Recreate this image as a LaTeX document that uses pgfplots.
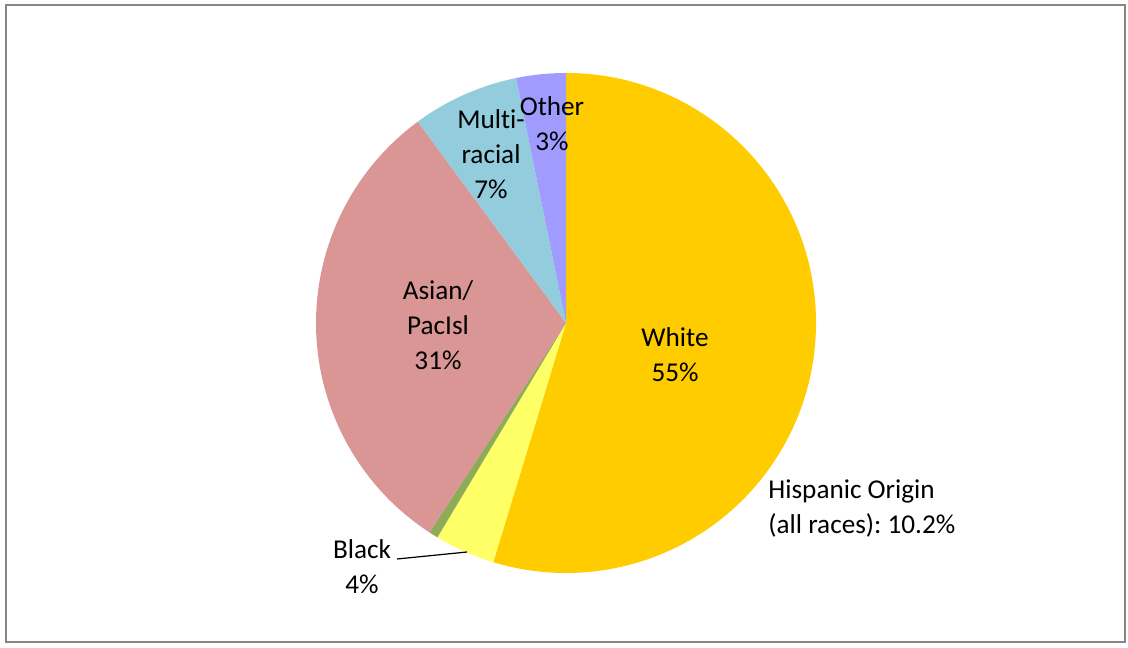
\documentclass[border=0pt]{standalone}
\usepackage{fontspec}
\setmainfont{Carlito}[Ligatures=NoCommon]
\usepackage{pgfplots}
\usepackage{pgfplotstable}
\pgfplotsset{compat=1.18}
\frenchspacing

\definecolor{c0}{HTML}{FFCC00}
\definecolor{c1}{HTML}{FFFF66}
\definecolor{c2}{HTML}{8EAB5A}
\definecolor{c3}{HTML}{D99694}
\definecolor{c4}{HTML}{93CDDD}
\definecolor{c5}{HTML}{A09CFF}
\definecolor{frame}{HTML}{868686}

% shares in percent, clockwise from 12 o'clock
\pgfplotstableread{
name   value
White  54.7
Black  3.9
AmInd  0.6
Asian  30.7
Multi  6.9
Other  3.2
}\piedata

% start/end angle of each slice
\xdef\startang{90}
\pgfplotsforeachungrouped \i in {0,...,5}{%
  \pgfplotstablegetelem{\i}{value}\of\piedata
  \pgfmathsetmacro\endang{\startang-3.6*\pgfplotsretval}%
  \expandafter\xdef\csname sa\i\endcsname{\startang}%
  \expandafter\xdef\csname ea\i\endcsname{\endang}%
  \xdef\startang{\endang}%
}

\begin{document}
\begin{tikzpicture}
\begin{axis}[
  x=0.5pt, y=0.5pt,
  xmin=-566, xmax=562, ymin=-324, ymax=323,
  hide axis, clip=false,
]
\path (axis cs:-566,-324) rectangle (axis cs:562,323);
\draw[frame, line width=1pt] (axis cs:-560,317.5) rectangle (axis cs:558.5,-318.5);

\pgfplotsinvokeforeach{0,...,5}{%
  \fill[c#1] (axis cs:0,0)
    -- (axis cs:{250*cos(\csname sa#1\endcsname)},{250*sin(\csname sa#1\endcsname)})
    arc[start angle=\csname sa#1\endcsname, end angle=\csname ea#1\endcsname, radius=125pt]
    -- cycle;
}

\begin{scope}[every node/.style={font=\fontsize{13.6}{17.5}\selectfont, align=center, inner sep=0pt}]
\node at (axis cs:109,-31.5) {White\\55\%};
\node at (axis cs:-128,-2) {Asian/\\PacIsl\\31\%};
\node at (axis cs:-75,169) {Multi-\\racial\\7\%};
\node at (axis cs:-14,199.5) {Other\\3\%};
\node at (axis cs:-204,-243.5) {Black\\4\%};
\node[anchor=west, align=left] at (axis cs:202,-186) {Hispanic Origin\\(all races): 10.2\%};
\end{scope}
\draw[black, line width=0.6pt] (axis cs:-169,-236) -- (axis cs:-99,-229);
\end{axis}
\end{tikzpicture}
\end{document}
